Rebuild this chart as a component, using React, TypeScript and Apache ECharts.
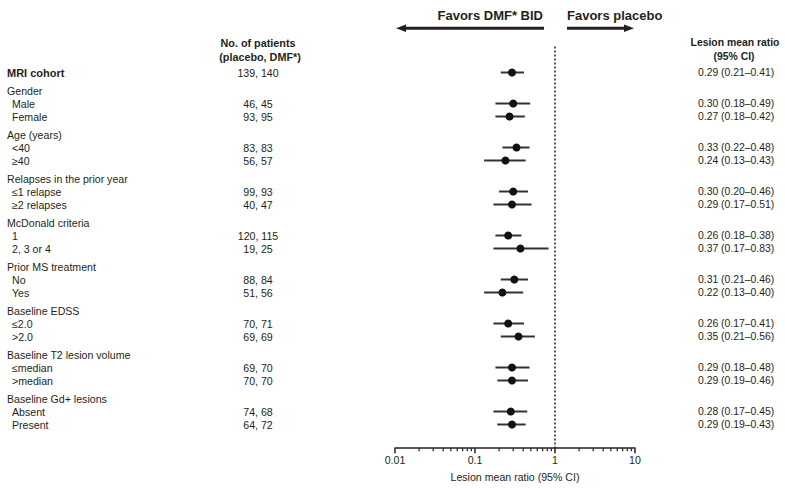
import React, { useEffect, useRef } from "react";
import * as echarts from "echarts";

// ---- Data ----
const rowLabels = [
  "MRI cohort",
  "Gender", "Male", "Female",
  "Age (years)", "<40", "≥40",
  "Relapses in the prior year", "≤1 relapse", "≥2 relapses",
  "McDonald criteria", "1", "2, 3 or 4",
  "Prior MS treatment", "No", "Yes",
  "Baseline EDSS", "≤2.0", ">2.0",
  "Baseline T2 lesion volume", "≤median", ">median",
  "Baseline Gd+ lesions", "Absent", "Present",
];
const rowKinds = [
  "overall",
  "header", "sub", "sub",
  "header", "sub", "sub",
  "header", "sub", "sub",
  "header", "sub", "sub",
  "header", "sub", "sub",
  "header", "sub", "sub",
  "header", "sub", "sub",
  "header", "sub", "sub",
];
const placeboN = [139, null, 46, 93, null, 83, 56, null, 99, 40, null, 120, 19, null, 88, 51, null, 70, 69, null, 69, 70, null, 74, 64];
const dmfN = [140, null, 45, 95, null, 83, 57, null, 93, 47, null, 115, 25, null, 84, 56, null, 71, 69, null, 70, 70, null, 68, 72];
const ratio = [0.29, null, 0.30, 0.27, null, 0.33, 0.24, null, 0.30, 0.29, null, 0.26, 0.37, null, 0.31, 0.22, null, 0.26, 0.35, null, 0.29, 0.29, null, 0.28, 0.29];
const ciLow = [0.21, null, 0.18, 0.18, null, 0.22, 0.13, null, 0.20, 0.17, null, 0.18, 0.17, null, 0.21, 0.13, null, 0.17, 0.21, null, 0.18, 0.19, null, 0.17, 0.19];
const ciHigh = [0.41, null, 0.49, 0.42, null, 0.48, 0.43, null, 0.46, 0.51, null, 0.38, 0.83, null, 0.46, 0.40, null, 0.41, 0.56, null, 0.48, 0.46, null, 0.45, 0.43];
const xTickMin = 0.01;
const xTickMax = 10;
const minorMultipliers = [2, 3, 4, 5, 6, 7, 8, 9];
const decades = [0.01, 0.1, 1];
const xAxisTitle = "Lesion mean ratio (95% CI)";
const leftFavor = "Favors DMF* BID";
const rightFavor = "Favors placebo";

// ---- Layout helpers ----
const FONT = '"Liberation Sans", Arial, Helvetica, sans-serif';
const INK = "#231f20";
const GROUP_GAP = 5 / 13;
const Y_MIN = -2;
const Y_MAX = 28.9;

const rowPos: number[] = [];
{
  let u = 0;
  rowKinds.forEach((k, i) => {
    if (i > 0) {
      u += 1;
      if (k === "header") u += GROUP_GAP;
    }
    rowPos.push(u);
  });
}

const fmt = (v: number) => v.toFixed(2);

export default function App() {
  const ref = useRef<HTMLDivElement>(null);
  useEffect(() => {
    document.body.style.margin = "0";
    const chart = echarts.init(ref.current!, null, { renderer: "svg" });

    const textData = rowLabels.map((_, i) => [1, rowPos[i], i]);
    const forestData: number[][] = [];
    ratio.forEach((r, i) => {
      if (r != null) forestData.push([r, ciLow[i] as number, ciHigh[i] as number, rowPos[i]]);
    });
    const minorTicks: number[][] = [];
    decades.forEach((d) => minorMultipliers.forEach((m) => minorTicks.push([d * m, Y_MAX])));

    const option: any = {
      animation: false,
      grid: { left: 395, right: 150, top: 46.5, bottom: 40.8 },
      xAxis: {
        type: "log",
        logBase: 10,
        min: xTickMin,
        max: xTickMax,
        splitLine: { show: false },
        axisLine: { show: true, onZero: false, lineStyle: { color: INK, width: 1.5 } },
        axisTick: { show: true, inside: false, length: 5, lineStyle: { color: INK, width: 1.5 } },
        axisLabel: { color: INK, fontFamily: FONT, fontSize: 10.6, margin: 6 },
        name: xAxisTitle,
        nameLocation: "middle",
        nameGap: 23,
        nameTextStyle: { color: INK, fontFamily: FONT, fontSize: 10.6 },
      },
      yAxis: {
        type: "value",
        inverse: true,
        min: Y_MIN,
        max: Y_MAX,
        show: false,
      },
      series: [
        {
          type: "line",
          data: [[1, Y_MIN], [1, Y_MAX]],
          symbol: "none",
          lineStyle: { color: INK, width: 1.5, type: [2, 2] },
          silent: true,
        },
        {
          type: "custom",
          clip: false,
          data: minorTicks,
          encode: { x: 0, y: 1 },
          renderItem: (params: any, api: any) => {
            const p = api.coord([api.value(0), api.value(1)]);
            return {
              type: "line",
              shape: { x1: p[0], y1: p[1], x2: p[0], y2: p[1] + 3 },
              style: { stroke: INK, lineWidth: 1.2 },
            };
          },
        },
        {
          type: "custom",
          clip: false,
          data: forestData,
          encode: { x: [0, 1, 2], y: 3 },
          renderItem: (params: any, api: any) => {
            const y = api.value(3);
            const pe = api.coord([api.value(0), y]);
            const pl = api.coord([api.value(1), y]);
            const ph = api.coord([api.value(2), y]);
            return {
              type: "group",
              children: [
                {
                  type: "line",
                  shape: { x1: pl[0], y1: pl[1], x2: ph[0], y2: ph[1] },
                  style: { stroke: "#333", lineWidth: 2 },
                },
                {
                  type: "circle",
                  shape: { cx: pe[0], cy: pe[1], r: 4 },
                  style: { fill: "#111" },
                },
              ],
            };
          },
        },
        {
          type: "custom",
          clip: false,
          data: textData,
          encode: { x: 0, y: 1 },
          renderItem: (params: any, api: any) => {
            const i = params.dataIndex;
            const p = api.coord([1, api.value(1)]);
            const kind = rowKinds[i];
            const children: any[] = [
              {
                type: "text",
                x: kind === "sub" ? 12 : 7,
                y: p[1],
                style: {
                  text: rowLabels[i],
                  fill: INK,
                  font: `${kind === "overall" ? "bold 11px" : "10.6px"} ${FONT}`,
                  verticalAlign: "middle",
                  align: "left",
                },
              },
            ];
            if (placeboN[i] != null) {
              children.push({
                type: "text",
                x: 258,
                y: p[1],
                style: {
                  text: `${placeboN[i]}, ${dmfN[i]}`,
                  fill: INK,
                  font: `10.6px ${FONT}`,
                  verticalAlign: "middle",
                  align: "center",
                },
              });
            }
            if (ratio[i] != null) {
              children.push({
                type: "text",
                x: 698,
                y: p[1],
                style: {
                  text: `${fmt(ratio[i] as number)} (${fmt(ciLow[i] as number)}–${fmt(ciHigh[i] as number)})`,
                  fill: INK,
                  font: `10.4px ${FONT}`,
                  verticalAlign: "middle",
                  align: "left",
                },
              });
            }
            return { type: "group", children };
          },
        },
      ],
      graphic: [
        { type: "text", x: 258, y: 42.7, style: { text: "No. of patients", fill: INK, font: `bold 10.8px ${FONT}`, align: "center", verticalAlign: "middle" } },
        { type: "text", x: 260, y: 56.7, style: { text: "(placebo, DMF*)", fill: INK, font: `bold 10.8px ${FONT}`, align: "center", verticalAlign: "middle" } },
        { type: "text", x: 735, y: 42.7, style: { text: "Lesion mean ratio", fill: INK, font: `bold 10.4px ${FONT}`, align: "center", verticalAlign: "middle" } },
        { type: "text", x: 734, y: 56.7, style: { text: "(95% CI)", fill: INK, font: `bold 10.4px ${FONT}`, align: "center", verticalAlign: "middle" } },
        { type: "text", x: 543, y: 15, style: { text: leftFavor, fill: INK, font: `bold 13px ${FONT}`, align: "right", verticalAlign: "middle" } },
        { type: "text", x: 567, y: 15, style: { text: rightFavor, fill: INK, font: `bold 13px ${FONT}`, align: "left", verticalAlign: "middle" } },
        { type: "line", shape: { x1: 544, y1: 28.3, x2: 404, y2: 28.3 }, style: { stroke: INK, lineWidth: 3 } },
        { type: "polygon", shape: { points: [[396, 28.3], [406, 24.5], [406, 32.1]] }, style: { fill: INK } },
        { type: "line", shape: { x1: 567, y1: 28.3, x2: 626, y2: 28.3 }, style: { stroke: INK, lineWidth: 3 } },
        { type: "polygon", shape: { points: [[634, 28.3], [624, 24.5], [624, 32.1]] }, style: { fill: INK } },
      ],
    };
    chart.setOption(option);
    return () => chart.dispose();
  }, []);
  return <div ref={ref} style={{ width: 785, height: 489 }} />;
}
